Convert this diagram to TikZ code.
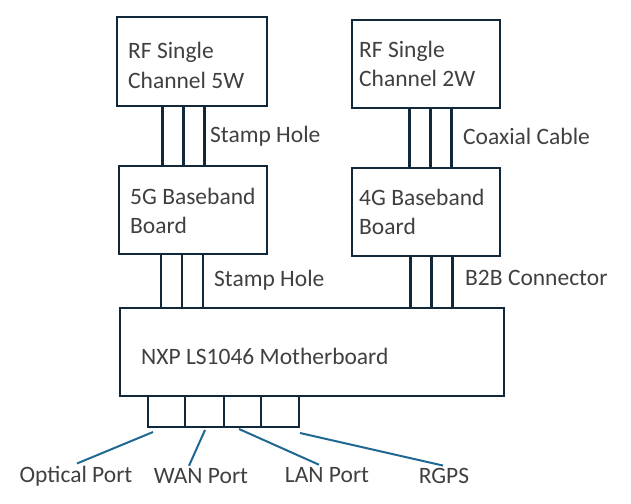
\documentclass[tikz,border=0pt]{standalone}
\usepackage{fontspec}
\setmainfont{Carlito}
\usepackage{tikz}
\usetikzlibrary{calc,positioning}
\definecolor{boxline}{HTML}{10283A}
\definecolor{portblue}{HTML}{1F6892}
\definecolor{txtgray}{HTML}{404040}

\begin{document}
\begin{tikzpicture}[
    x=1pt, y=-1pt,
    % --- STYLES ---
    board/.style={
        rectangle, draw=boxline, line width=2.6pt,
        fill=white, inner sep=0pt, outer sep=0pt
    },
    pin/.style={
        rectangle, draw=boxline, line width=2.6pt,
        minimum width=21, inner sep=0pt, outer sep=0pt
    },
    port/.style={
        rectangle, draw=boxline, line width=2.6pt,
        minimum height=31, inner sep=0pt, outer sep=0pt
    },
    txt/.style={
        font=\fontsize{23.5}{29}\selectfont, text=txtgray,
        inner sep=0pt, anchor=base west, align=left
    },
    plabel/.style={
        font=\fontsize{23.5}{29}\selectfont, text=txtgray,
        inner sep=2pt, anchor=base
    },
    portline/.style={draw=portblue, line width=2pt}
]
\useasboundingbox (0,0) rectangle (631,503);

% ===== 1. BOARDS =====
\node[board, minimum width=150, minimum height=89] (rf5) at (192,61.5) {};
\node[board, minimum width=148, minimum height=88] (bb5) at (193,210) {};
\node[board, minimum width=148, minimum height=88] (rf2) at (426,64) {};
\node[board, minimum width=148, minimum height=88] (bb4) at (426,212) {};
\node[board, minimum width=384, minimum height=88] (mb) at (312,352) {};

% text sits on the baseline of its last line
\node[txt] (rf5txt) at (128,88) {RF Single\\Channel 5W};
\node[txt] (bb5txt) at (130,233) {5G Baseband\\Board};
\node[txt] (rf2txt) at (359,86) {RF Single\\Channel 2W};
\node[txt] (bb4txt) at (359,234) {4G Baseband\\Board};
\node[txt] (mbtxt) at (141,364) {NXP LS1046 Motherboard};

% ===== 2. INTERCONNECTS =====
% Stamp hole RF -> 5G
\node[pin, minimum height=60] (sh1a) at (173,136) {};
\node[pin, minimum height=60, right=0pt of sh1a] (sh1b) {};
\node[txt] (sh1txt) at (210,142) {Stamp Hole};

% Stamp hole 5G -> motherboard
\node[pin, minimum height=54] (sh2a) at (171.5,281) {};
\node[pin, minimum height=54, right=0pt of sh2a] (sh2b) {};
\node[txt] (sh2txt) at (214,286) {Stamp Hole};

% Coaxial RF -> 4G
\node[pin, minimum height=60] (cxa) at (420,138) {};
\node[pin, minimum height=60, right=0pt of cxa] (cxb) {};
\node[txt] (cxtxt) at (463,144) {Coaxial Cable};

% B2B 4G -> motherboard
\node[pin, minimum height=52] (b2a) at (421,282) {};
\node[pin, minimum height=52, right=0pt of b2a] (b2b) {};
\node[txt] (b2txt) at (465,285) {B2B Connector};

% ===== 3. PORTS =====
\node[port, minimum width=37] (p1) at (166.5,411.5) {};
\node[port, minimum width=39, right=0pt of p1] (p2) {};
\node[port, minimum width=37, right=0pt of p2] (p3) {};
\node[port, minimum width=38, right=0pt of p3] (p4) {};

\node[plabel] (optl) at (76,482) {Optical Port};
\node[plabel] (wanl) at (201,483) {WAN Port};
\node[plabel] (lanl) at (327,482) {LAN Port};
\node[plabel] (rgpsl) at (444,483) {RGPS};

\coordinate (o1) at (153,432);
\coordinate (o2) at (205,430);
\coordinate (o3) at (239,429);
\coordinate (o4) at (300,433);

% ===== 4. CONNECTIONS =====
\draw[portline] (o1) -- ([xshift=1pt]optl.north);
\draw[portline] (o2) -- ([xshift=-12pt]wanl.north);
\draw[portline] (o3) -- ([xshift=-8pt]lanl.north);
\draw[portline] (o4) -- ([xshift=-1pt]rgpsl.north);

\end{tikzpicture}
\end{document}
